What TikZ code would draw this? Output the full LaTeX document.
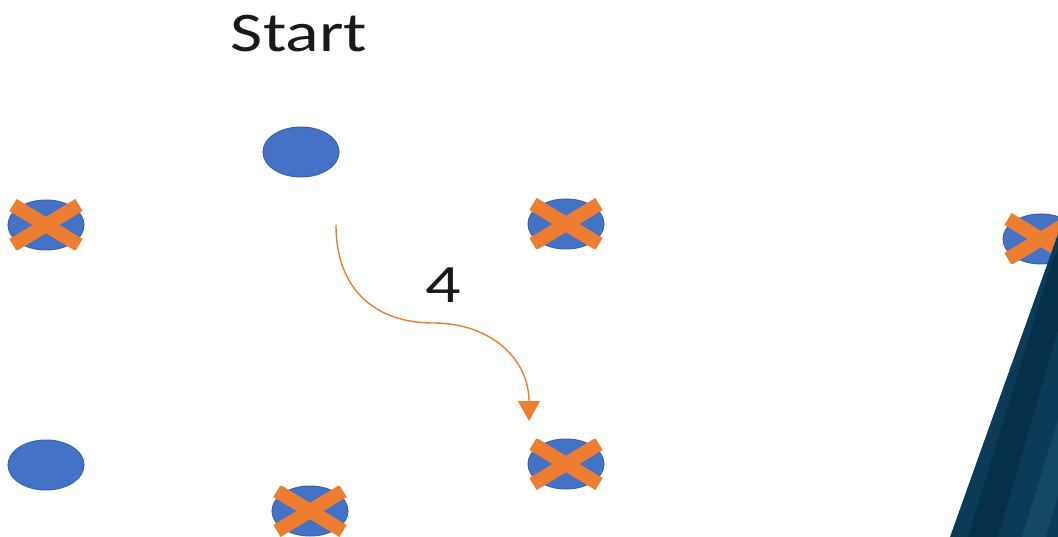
\documentclass[tikz,border=0pt]{standalone}
\usepackage{fontspec}
\setmainfont{Carlito}
\usetikzlibrary{shapes.geometric,arrows.meta}
\definecolor{dotblue}{HTML}{4472C4}
\definecolor{dotedge}{HTML}{3A62AC}
\definecolor{xorange}{HTML}{ED7D31}
\definecolor{panelbase}{HTML}{0C3B58}
\definecolor{paneldark}{HTML}{063049}
\definecolor{panellight}{HTML}{134963}
\tikzset{
  dot/.style={ellipse, draw=dotedge, line width=1pt, fill=dotblue,
    minimum width=76pt, minimum height=50pt, inner sep=0pt},
  xarm/.style={draw=xorange, line width=14pt, line cap=butt},
  move/.style={draw=xorange, line width=1.4pt,
    -{Triangle[length=20pt,width=22pt]}},
  bigtext/.style={font=\fontsize{56}{60}\selectfont, text=black!90, inner sep=0pt}
}
\begin{document}
\begin{tikzpicture}[x=1pt,y=-1pt]
  \useasboundingbox[fill=white] (0,0) rectangle (1058,537);

  \node[bigtext] (start) at (299,34) {\scalebox{1.25}[1]{Start}};

  \node[dot] (top) at (301,152) {};
  \node[dot] (lt) at (46,225) {};
  \node[dot] (rt) at (566,224) {};
  \node[dot] (lb) at (46,465) {};
  \node[dot] (rb) at (566,464) {};
  \node[dot] (bm) at (310,511) {};
  \node[dot] (fr) at (1041,239) {};

  \foreach \n in {lt,rt,rb,bm,fr} {
    \begin{scope}
      \clip ([shift={(-37,-25)}]\n.center) rectangle ([shift={(37,25)}]\n.center);
      \draw[xarm] ([shift={(-33,-20)}]\n.center) -- ([shift={(33,20)}]\n.center);
      \draw[xarm] ([shift={(-33,20)}]\n.center) -- ([shift={(33,-20)}]\n.center);
    \end{scope}
  }

  \coordinate (mvs) at (336,225);
  \coordinate (mvm) at (433,323);
  \coordinate (mve) at (529,421);
  \draw[move] (mvs) .. controls (336,292) and (378,323) .. (mvm)
              .. controls (492,323) and (529,360) .. (mve);
  \node[bigtext, font=\fontsize{54}{58}\selectfont] (four) at (443,285) {\scalebox{1.3}[1]{4}};

  % dark panel at the right
  \fill[panelbase] (1058,234) -- (950,537) -- (1058,537) -- cycle;
  \fill[paneldark] (1052,262) -- (968,537) -- (998,537) -- (1058,330) -- (1058,250) -- cycle;
  \fill[panellight] (1058,420) -- (1022,537) -- (1046,537) -- (1058,495) -- cycle;
\end{tikzpicture}
\end{document}
